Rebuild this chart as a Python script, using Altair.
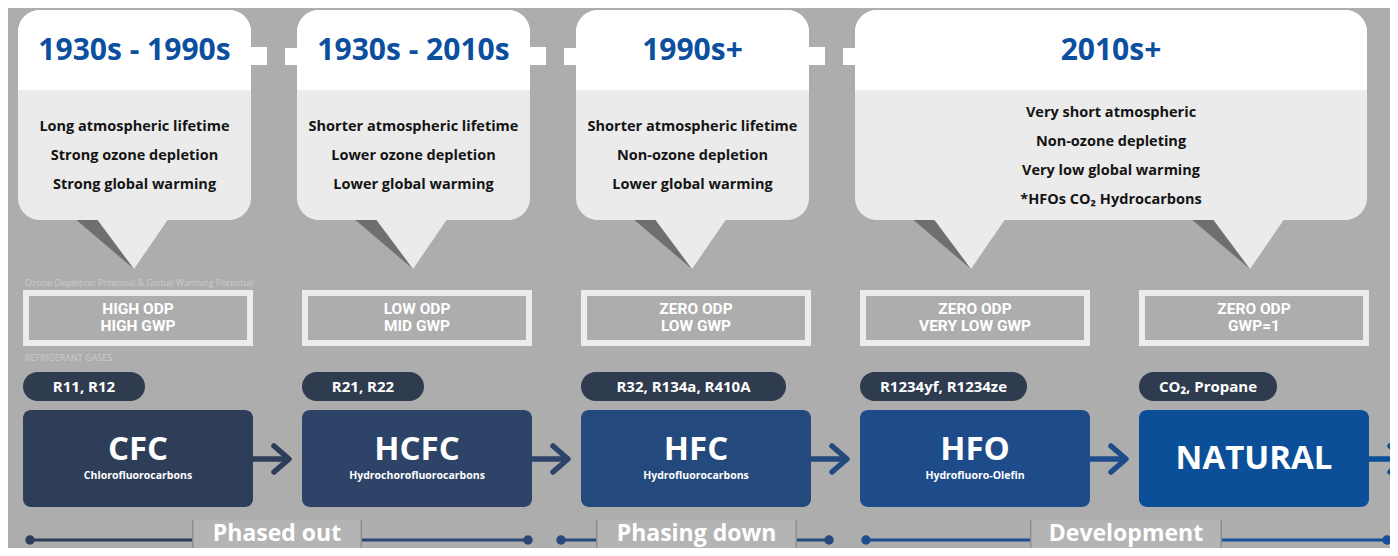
import altair as alt
import pandas as pd

# ---------------- data ----------------
eras = ["1930s - 1990s", "1930s - 2010s", "1990s+", "2010s+"]
era_props = [
    ["Long atmospheric lifetime", "Strong ozone depletion", "Strong global warming"],
    ["Shorter atmospheric lifetime", "Lower ozone depletion", "Lower global warming"],
    ["Shorter atmospheric lifetime", "Non-ozone depletion", "Lower global warming"],
    ["Very short atmospheric", "Non-ozone depleting", "Very low global warming", "*HFOs CO\u2082 Hydrocarbons"],
]
era_cols = [(0, 0), (1, 1), (2, 2), (3, 4)]
odp_line1 = ["HIGH ODP", "LOW ODP", "ZERO ODP", "ZERO ODP", "ZERO ODP"]
odp_line2 = ["HIGH GWP", "MID GWP", "LOW GWP", "VERY LOW GWP", "GWP=1"]
gases = ["R11, R12", "R21, R22", "R32, R134a, R410A", "R1234yf, R1234ze", "CO\u2082, Propane"]
families = ["CFC", "HCFC", "HFC", "HFO", "NATURAL"]
family_names = ["Chlorofluorocarbons", "Hydrochorofluorocarbons", "Hydrofluorocarbons", "Hydrofluoro-Olefin", ""]
phases = ["Phased out", "Phasing down", "Development"]
caption_odp = "Ozone Depletion Potential & Global Warming Potential"
caption_gases = "REFRIGERANT GASES"

# ---------------- layout (pixels) ----------------
COL0, STEP, BOXW = 23, 279, 230
col_left = [COL0 + i * STEP for i in range(5)]
col_right = [l + BOXW for l in col_left]
col_center = [l + BOXW / 2 for l in col_left]
pill_w = [122, 122, 205, 167, 138]
box_colors = ["#2f3e58", "#2d4468", "#244a7d", "#1e4c8b", "#0b4f99"]
phase_layout = [  # dot_l, label_l, label_r, dot_r, color_l, color_r
    (30, 192, 362, 528, "#2f3d57", "#2b4776"),
    (561, 596, 797, 829, "#284a7e", "#26497f"),
    (866, 1030, 1222, 1387, "#1e4d8f", "#16509b"),
]
BG = "#adadad"
BLUE = "#0b4f9e"

W, H = 1382, 540
xs = alt.Scale(domain=[8, 8 + W], nice=False, zero=False)
ys = alt.Scale(domain=[8, 8 + H], nice=False, zero=False, reverse=True)
X = lambda f="x": alt.X(f"{f}:Q", scale=xs, axis=None)
Y = lambda f="y": alt.Y(f"{f}:Q", scale=ys, axis=None, stack=None)


def rects(rows, **kw):
    df = pd.DataFrame(rows)
    enc = dict(x=X(), x2="x2:Q", y=Y(), y2="y2:Q")
    if "c" in df.columns:
        enc["color"] = alt.Color("c:N", scale=None)
    return alt.Chart(df).mark_rect(**kw).encode(**enc)


def texts(rows, **kw):
    df = pd.DataFrame(rows)
    enc = dict(x=X(), y=Y(), text="t:N")
    if "c" in df.columns:
        enc["color"] = alt.Color("c:N", scale=None)
    return alt.Chart(df).mark_text(**kw).encode(**enc)


layers = []

# ---- callouts ----
callout_body, callout_head, tails_light, tails_dark, conn = [], [], [], [], []
head_txt, body_txt = [], []
call_lr = []
for k, (a, b) in enumerate(era_cols):
    L, R = col_left[a] - 5, col_right[b] - 2
    call_lr.append((L, R))
    callout_body.append(dict(x=L, x2=R, y=10, y2=220))
    callout_head.append(dict(x=L, x2=R, y=10, y2=90))
    head_txt.append(dict(x=(L + R) / 2, y=51, t=eras[k]))
    n = len(era_props[k])
    for j, p in enumerate(era_props[k]):
        body_txt.append(dict(x=(L + R) / 2, y=156 + (j - (n - 1) / 2) * 29, t=p))
    for c in range(a, b + 1):
        tip = col_center[c] - 4
        g = f"t{c}"
        tails_dark += [dict(x=tip - 60, y=218, y2=218, g=g), dict(x=tip, y=218, y2=269, g=g)]
        tails_light += [dict(x=tip - 38, y=218, y2=218, g=g), dict(x=tip, y=218, y2=269, g=g),
                        dict(x=tip + 35, y=218, y2=218, g=g)]
for k in range(len(call_lr) - 1):
    r = call_lr[k][1]
    l = call_lr[k + 1][0]
    conn.append(dict(x=r - 2, x2=r + 16, y=47, y2=65))
    conn.append(dict(x=l - 12, x2=l + 2, y=48, y2=65))


def tail_layer(rows, color):
    return alt.Chart(pd.DataFrame(rows)).mark_area(color=color, interpolate="linear").encode(
        x=X(), y=Y(), y2="y2:Q", detail="g:N")


layers.append(tail_layer(tails_dark, "#6f6f6f"))
layers.append(tail_layer(tails_light, "#ebebeb"))
layers.append(rects(conn, color="#ffffff"))
layers.append(rects(callout_body, color="#ebebeb", cornerRadius=22))
layers.append(rects(callout_head, color="#ffffff", cornerRadiusTopLeft=22, cornerRadiusTopRight=22))
layers.append(texts(head_txt, font="Open Sans", fontWeight="bold", fontSize=30, color=BLUE,
                    align="center", baseline="middle"))
layers.append(texts(body_txt, font="Open Sans", fontWeight="bold", fontSize=14.5, color="#141414",
                    align="center", baseline="middle"))

# ---- captions ----
layers.append(texts([dict(x=25, y=283, t=caption_odp), dict(x=25, y=358, t=caption_gases)],
                    font="Open Sans", fontSize=9, color="#ffffff", opacity=0.35,
                    align="left", baseline="middle"))

# ---- ODP boxes ----
odp_rect, odp_txt = [], []
for i in range(5):
    odp_rect.append(dict(x=col_left[i] + 3, x2=col_right[i] - 3, y=293, y2=343))
    odp_txt.append(dict(x=col_center[i], y=309, t=odp_line1[i]))
    odp_txt.append(dict(x=col_center[i], y=326, t=odp_line2[i]))
layers.append(rects(odp_rect, filled=False, stroke="#ececec", strokeWidth=6))
layers.append(texts(odp_txt, font="Roboto", fontWeight="bold", fontSize=15.5, color="#ffffff",
                    align="center", baseline="middle"))

# ---- gas pills ----
pills, pill_txt = [], []
for i in range(5):
    pills.append(dict(x=col_left[i], x2=col_left[i] + pill_w[i], y=372, y2=401))
    pill_txt.append(dict(x=col_left[i] + pill_w[i] / 2, y=387, t=gases[i]))
layers.append(rects(pills, color="#2f3b4e", cornerRadius=14.5))
layers.append(texts(pill_txt, font="Open Sans", fontWeight="bold", fontSize=15, color="#ffffff",
                    align="center", baseline="middle"))

# ---- arrows ----
shaft, chev = [], []
for i in range(5):
    r = col_right[i]
    c = box_colors[i]
    shaft += [dict(x=r - 2, y=459, g=f"s{i}", o=0, c=c), dict(x=r + 34, y=459, g=f"s{i}", o=1, c=c)]
    chev += [dict(x=r + 21, y=446, g=f"c{i}", o=0, c=c), dict(x=r + 36, y=459, g=f"c{i}", o=1, c=c),
             dict(x=r + 21, y=472, g=f"c{i}", o=2, c=c)]
for dat in (shaft, chev):
    layers.append(alt.Chart(pd.DataFrame(dat)).mark_line(strokeWidth=5.5, strokeCap="round",
                                                          strokeJoin="round").encode(
        x=X(), y=Y(), detail="g:N", order="o:Q", color=alt.Color("c:N", scale=None)))

# ---- family boxes ----
boxes, big_txt, nat_txt, sub_txt = [], [], [], []
for i in range(5):
    boxes.append(dict(x=col_left[i], x2=col_right[i], y=410, y2=507, c=box_colors[i]))
    if family_names[i]:
        big_txt.append(dict(x=col_center[i], y=450, t=families[i]))
        sub_txt.append(dict(x=col_center[i], y=476, t=family_names[i]))
    else:
        nat_txt.append(dict(x=col_center[i], y=459, t=families[i]))
layers.append(rects(boxes, cornerRadius=8))
layers.append(texts(big_txt, font="Open Sans", fontWeight="bold", fontSize=33, color="#ffffff",
                    align="center", baseline="middle"))
layers.append(texts(nat_txt, font="Open Sans", fontWeight="bold", fontSize=33, color="#ffffff",
                    align="center", baseline="middle"))
layers.append(texts(sub_txt, font="Open Sans", fontWeight="bold", fontSize=10.5, color="#ffffff",
                    align="center", baseline="middle"))

# ---- timeline ----
seg, dots, lab_bg, lab_edge, lab_txt = [], [], [], [], []
for p, (dl, ll, lr, dr, cl, cr) in enumerate(phase_layout):
    seg += [dict(x=dl, y=540, g=f"a{p}", c=cl), dict(x=ll, y=540, g=f"a{p}", c=cl),
            dict(x=lr, y=540, g=f"b{p}", c=cr), dict(x=dr, y=540, g=f"b{p}", c=cr)]
    dots += [dict(x=dl, y=540, c=cl), dict(x=dr, y=540, c=cr)]
    lab_bg.append(dict(x=ll, x2=lr, y=520, y2=548))
    lab_edge += [dict(x=ll, x2=ll + 1.5, y=520, y2=548), dict(x=lr - 1.5, x2=lr, y=520, y2=548)]
    lab_txt.append(dict(x=(ll + lr) / 2, y=534, t=phases[p]))
layers.append(alt.Chart(pd.DataFrame(seg)).mark_line(strokeWidth=3).encode(
    x=X(), y=Y(), detail="g:N", color=alt.Color("c:N", scale=None)))
layers.append(alt.Chart(pd.DataFrame(dots)).mark_point(filled=True, size=90, opacity=1).encode(
    x=X(), y=Y(), color=alt.Color("c:N", scale=None)))
layers.append(rects(lab_bg, color="#b4b4b4"))
layers.append(rects(lab_edge, color="#8d8d8d"))
layers.append(texts(lab_txt, font="Open Sans", fontWeight="bold", fontSize=23, color="#ffffff",
                    align="center", baseline="middle"))

chart = alt.layer(*layers).properties(
    width=W, height=H, padding=0, background=BG,
    autosize=alt.AutoSizeParams(type="none"),
).configure_view(stroke=None)

chart.save("out.html", embed_options={"renderer": "svg", "actions": False})
